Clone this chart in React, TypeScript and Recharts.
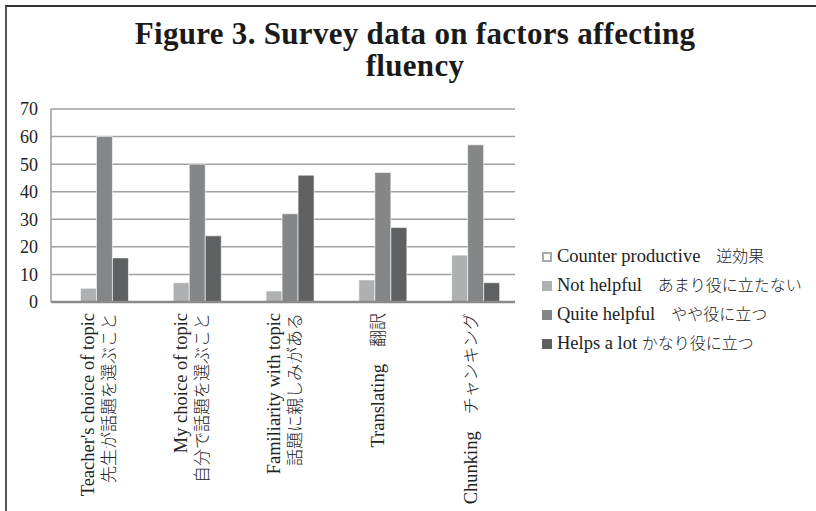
import React from 'react';
import { BarChart, Bar, XAxis, YAxis, CartesianGrid } from 'recharts';

// categories: each entry is the list of label lines (rotated, read bottom to top)
const categoryLabels: string[][] = [
  ["Teacher's choice of topic", '先生が話題を選ぶこと'],
  ['My choice of topic', '自分で話題を選ぶこと'],
  ['Familiarity with topic', '話題に親しみがある'],
  ['Translating　翻訳'],
  ['Chunking　チャンキング'],
];

const counterProductive = [0, 0, 0, 0, 0];
const notHelpful = [5, 7, 4, 8, 17];
const quiteHelpful = [60, 50, 32, 47, 57];
const helpsALot = [16, 24, 46, 27, 7];

const yTicks = [0, 10, 20, 30, 40, 50, 60, 70];

const series = [
  { key: 'counter', name: 'Counter productive　逆効果', color: '#ffffff', outline: '#a9aaac' },
  { key: 'not', name: 'Not helpful　あまり役に立たない', color: '#afb0b2' },
  { key: 'quite', name: 'Quite helpful　やや役に立つ', color: '#858688' },
  { key: 'lot', name: 'Helps a lot かなり役に立つ', color: '#5f6062' },
];

const data = categoryLabels.map((lines, i) => ({
  name: lines.join('|'),
  counter: counterProductive[i],
  not: notHelpful[i],
  quite: quiteHelpful[i],
  lot: helpsALot[i],
}));

const FONT = "'Liberation Serif', 'Noto Sans CJK JP', serif";
const CJK = /([\u3000-\u9fff\uff00-\uffef]+)/;

// split text into latin / CJK runs so each can get its own size
function runs(text: string) {
  return text.split(CJK).filter((t) => t.length > 0).map((t) => ({ t, cjk: CJK.test(t) }));
}

function CategoryTick(props: any) {
  const { x, y, payload } = props;
  const lines: string[] = String(payload.value).split('|');
  const offsets = lines.length === 2 ? [-9, 12] : [2];
  return (
    <g transform={`translate(${x},${y})`}>
      {lines.map((line, i) => (
        <text
          key={i}
          transform="rotate(-90)"
          x={-11}
          y={offsets[i]}
          textAnchor="end"
          dominantBaseline="central"
          fontFamily={FONT}
          fill="#222"
        >
          {runs(line).map((r, j) => (
            <tspan key={j} fontSize={r.cjk ? 17 : 18.5} fontWeight={r.cjk ? 300 : 400}>
              {r.t}
            </tspan>
          ))}
        </text>
      ))}
    </g>
  );
}

export default function App() {
  return (
    <div
      style={{
        position: 'absolute',
        left: 0,
        top: 0,
        width: 816,
        height: 511,
        overflow: 'hidden',
        background: '#fff',
        fontFamily: FONT,
      }}
    >
      {/* frame */}
      <div
        style={{
          position: 'absolute',
          left: 5,
          top: 5,
          width: 830,
          height: 530,
          borderTop: '2px solid #333',
          borderLeft: '2px solid #555',
        }}
      />
      <div
        style={{
          position: 'absolute',
          left: 0,
          top: 18,
          width: 830,
          textAlign: 'center',
          fontWeight: 'bold',
          fontSize: 31,
          letterSpacing: 0.3,
          lineHeight: '32px',
          color: '#1a1a1a',
        }}
      >
        Figure 3. Survey data on factors affecting
        <br />
        fluency
      </div>

      <div style={{ position: 'absolute', left: 0, top: 0 }}>
        <BarChart
          width={816}
          height={511}
          data={data}
          margin={{ top: 109, right: 301, bottom: 0, left: 0 }}
          barCategoryGap="14.5%"
          barGap={0}
        >
          <CartesianGrid vertical={false} stroke="#a0a0a0" strokeWidth={1.5} />
          <XAxis
            dataKey="name"
            height={209}
            interval={0}
            tickLine={false}
            tickSize={0}
            tickMargin={0}
            axisLine={{ stroke: '#8a8a8a', strokeWidth: 2.5 }}
            tick={<CategoryTick />}
          />
          <YAxis
            width={51}
            domain={[0, 70]}
            ticks={yTicks}
            interval={0}
            tickLine={false}
            tickSize={0}
            tickMargin={13}
            axisLine={{ stroke: '#9a9a9a', strokeWidth: 1.5 }}
            tick={{ fontSize: 18, fill: '#222', fontFamily: FONT }}
          />
          {series.map((s) => (
            <Bar
              key={s.key}
              dataKey={s.key}
              name={s.name}
              fill={s.color}
              stroke="#ffffff"
              strokeWidth={0.6}
              isAnimationActive={false}
            />
          ))}
        </BarChart>
      </div>

      {/* legend */}
      <div style={{ position: 'absolute', left: 542, top: 240 }}>
        {series.map((s) => (
          <div
            key={s.key}
            style={{ display: 'flex', alignItems: 'center', height: 29, color: '#222' }}
          >
            <span
              style={{
                display: 'inline-block',
                boxSizing: 'border-box',
                width: 10,
                height: 10,
                marginRight: 5,
                marginTop: 4,
                background: s.color,
                border: s.outline ? `2px solid ${s.outline}` : 'none',
              }}
            />
            <span style={{ whiteSpace: 'pre' }}>
              {runs(s.name).map((r, j) => (
                <span key={j} style={{ fontSize: r.cjk ? 16 : 18.5, fontWeight: r.cjk ? 300 : 400 }}>
                  {r.t}
                </span>
              ))}
            </span>
          </div>
        ))}
      </div>
    </div>
  );
}
